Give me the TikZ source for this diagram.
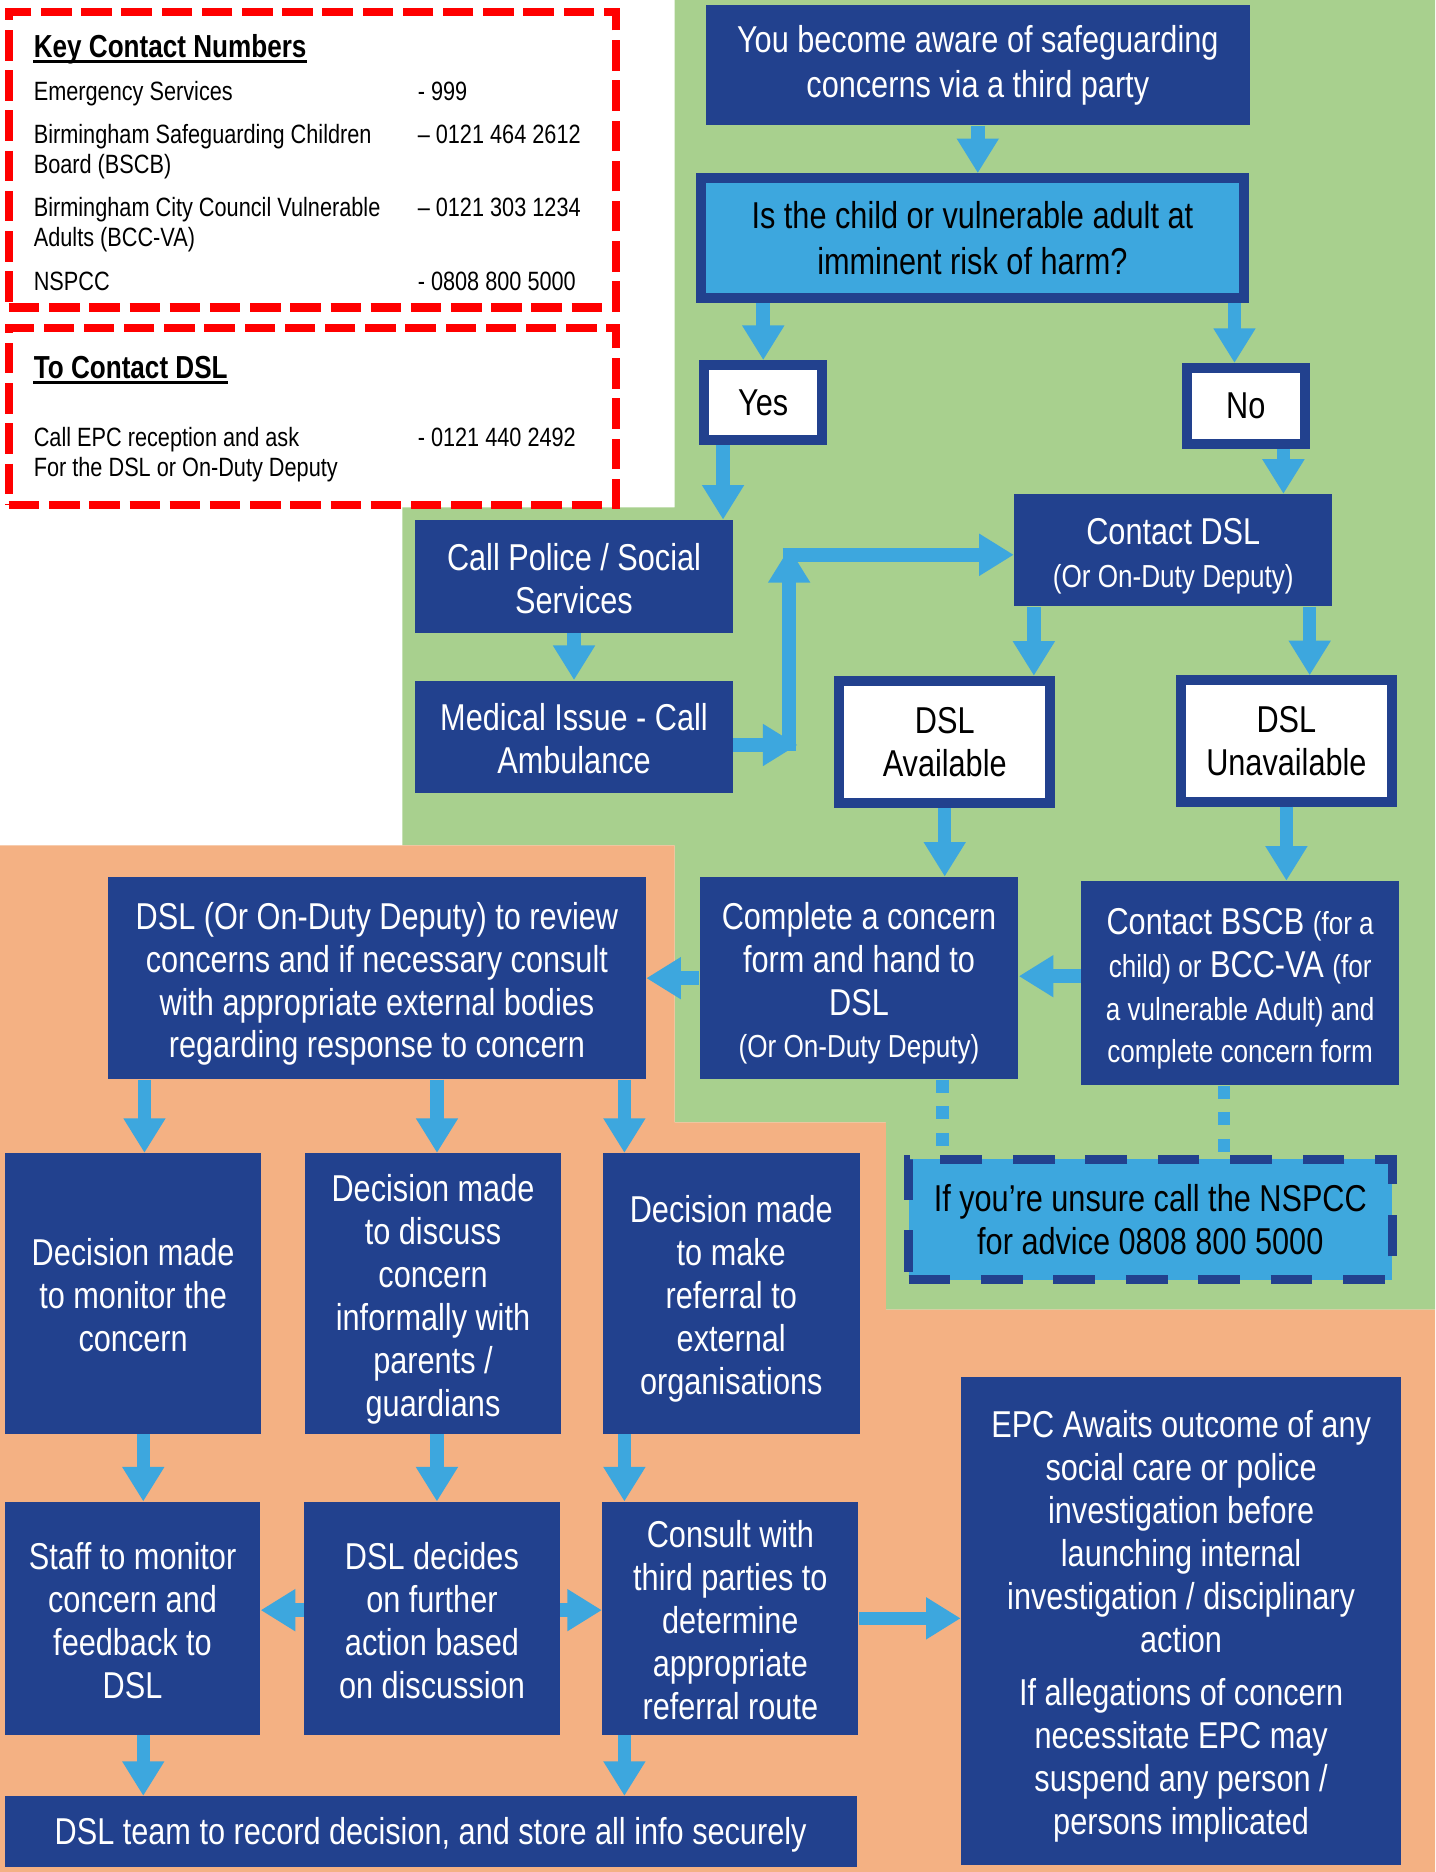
\documentclass[tikz,border=0pt]{standalone}
\usepackage{fontspec}
\setmainfont{Liberation Sans}[FakeStretch=0.82]
\usetikzlibrary{arrows.meta}
\definecolor{navy}{RGB}{34,65,142}
\definecolor{sky}{RGB}{61,167,222}
\definecolor{leaf}{RGB}{168,208,142}
\definecolor{peach}{RGB}{244,177,131}
\newcommand{\bigtxt}{\fontsize{18.8}{21.6}\selectfont}
\newcommand{\widetxt}{\fontsize{18.8}{22.8}\selectfont}
\newcommand{\smtxt}{\fontsize{16}{19}\selectfont}
\newcommand{\keytxt}{\fontsize{13.3}{15}\selectfont}
\newcommand{\keyhead}{\fontsize{16}{18}\selectfont\bfseries}
% centred block of lines, lowered slightly inside its box
\newcommand{\btxt}[2][3.4pt]{\raisebox{-#1}[\height][\depth]{\begin{tabular}{@{}c@{}}#2\end{tabular}}}

\begin{document}
\begin{tikzpicture}[x=0.6pt,y=-0.6pt,
  txtbase/.style={inner sep=0pt, align=center, font=\bigtxt},
  navybox/.style 2 args={txtbase, fill=navy, text=white,
    minimum width=#1*0.6pt, minimum height=#2*0.6pt},
  framed/.style 2 args={txtbase, fill=white, draw=navy, line width=5pt, text=black,
    minimum width=(#1-8.4)*0.6pt, minimum height=(#2-8.4)*0.6pt},
  qbox/.style 2 args={framed={#1}{#2}, fill=sky, font=\widetxt},
  advice/.style 2 args={txtbase, fill=sky, draw=navy, line width=4.5pt,
    dash pattern=on 21pt off 15.4pt, text=black,
    minimum width=#1*0.6pt, minimum height=#2*0.6pt},
  redframe/.style 2 args={draw=red, line width=4.2pt, dash pattern=on 15.3pt off 4.9pt,
    inner sep=0pt, minimum width=#1*0.6pt, minimum height=#2*0.6pt},
  keyline/.style={anchor=base west, inner sep=0pt, font=\keytxt},
  keytitle/.style={anchor=base west, inner sep=0pt, font=\keyhead},
  uline/.style={line width=1.3pt},
  arr/.style={draw=sky, line width=6.8pt, -{Triangle[width=20pt,length=17.4pt]}},
  dots/.style={draw=sky, line width=6.2pt, dash pattern=on 6.6pt off 6.8pt}
]
\useasboundingbox (0,0) rectangle (1202,1568);
\fill[white] (0,0) rectangle (1202,1568);

% coloured zones
\fill[leaf] (565,0) -- (1202,0) -- (1202,1097) -- (742,1097) -- (742,940)
  -- (565,940) -- (565,708) -- (337,708) -- (337,425) -- (565,425) -- cycle;
\fill[peach] (0,708) -- (565,708) -- (565,940) -- (742,940) -- (742,1097)
  -- (1202,1097) -- (1202,1568) -- (0,1568) -- cycle;

% contact panels
\node[redframe={508.5}{247.4}] (keybox) at (261.75,134) {};
\node[redframe={508.5}{148.5}] (dslbox) at (261.75,348.75) {};

\node[keytitle] (k0) at (28,48) {Key Contact Numbers};
\draw[uline] ([yshift=-2.1pt]k0.base west) -- ([yshift=-2.1pt]k0.base east);
\node[keyline] (k1) at (28,84) {Emergency Services};
\node[keyline] (n1) at (349.6,84) {- 999};
\node[keyline] (k2) at (28,120) {Birmingham Safeguarding Children};
\node[keyline] (n2) at (349.6,120) {– 0121 464 2612};
\node[keyline] (k3) at (28,145) {Board (BSCB)};
\node[keyline] (k4) at (28,181.5) {Birmingham City Council Vulnerable};
\node[keyline] (n4) at (349.6,181.5) {– 0121 303 1234};
\node[keyline] (k5) at (28,206.6) {Adults (BCC-VA)};
\node[keyline] (k6) at (28,243) {NSPCC};
\node[keyline] (n6) at (349.6,243) {- 0808 800 5000};

\node[keytitle] (t0) at (28,317) {To Contact DSL};
\draw[uline] ([yshift=-2.1pt]t0.base west) -- ([yshift=-2.1pt]t0.base east);
\node[keyline] (t1) at (28,374) {Call EPC reception and ask};
\node[keyline] (tn) at (349.6,374) {- 0121 440 2492};
\node[keyline] (t2) at (28,399) {For the DSL or On-Duty Deputy};

% flow boxes
\node[navybox={456}{101}, font=\widetxt] (aware) at (819,54.5) {You become aware of safeguarding\\concerns via a third party};
\node[qbox={463}{109}] (q) at (814.5,199.5) {Is the child or vulnerable adult at\\imminent risk of harm?};
\node[framed={107.5}{71.4}] (yes) at (639.3,337.3) {Yes};
\node[framed={107}{72}] (no) at (1043.5,340) {No};
\node[navybox={266.4}{94.4}] (police) at (480.8,482.8) {\btxt{Call Police / Social\\Services}};
\node[navybox={266.4}{94}] (med) at (480.8,617) {\btxt{Medical Issue - Call\\Ambulance}};
\node[navybox={266.5}{94}] (cdsl) at (982.75,461) {\btxt{Contact DSL\\{\smtxt (Or On-Duty Deputy)}}};
\node[framed={185.4}{111}] (avail) at (791.3,621.5) {DSL\\Available};
\node[framed={185}{110}] (unavail) at (1077.5,620.6) {DSL\\Unavailable};
\node[navybox={267}{169.4}] (complete) at (719.5,819.3) {\btxt{Complete a concern\\form and hand to\\DSL\\{\smtxt (Or On-Duty Deputy)}}};
\node[navybox={266.5}{171}] (bscb) at (1038.75,823.5) {\btxt{Contact BSCB {\smtxt (for a}\\{\smtxt child) or} BCC-VA {\smtxt (for}\\{\smtxt a vulnerable Adult) and}\\{\smtxt complete concern form}}};
\node[navybox={450.6}{169.4}] (review) at (315.7,819.3) {\btxt{DSL (Or On-Duty Deputy) to review\\concerns and if necessary consult\\with appropriate external bodies\\regarding response to concern}};
\node[navybox={215}{235}] (mon) at (111.5,1083.5) {\btxt{Decision made\\to monitor the\\concern}};
\node[navybox={214.6}{235}] (disc) at (362.7,1083.5) {\btxt{Decision made\\to discuss\\concern\\informally with\\parents /\\guardians}};
\node[navybox={215}{235}] (ref) at (612.5,1083.5) {\btxt{Decision made\\to make\\referral to\\external\\organisations}};
\node[navybox={214}{195}] (staff) at (111,1355.5) {\btxt{Staff to monitor\\concern and\\feedback to\\DSL}};
\node[navybox={214.4}{195}] (decides) at (361.8,1355.5) {\btxt{DSL decides\\on further\\action based\\on discussion}};
\node[navybox={214.5}{195}] (consult) at (611.75,1355.5) {\btxt{Consult with\\third parties to\\determine\\appropriate\\referral route}};
\node[navybox={713.8}{59}] (team) at (360.7,1534.1) {\btxt[2pt]{DSL team to record decision, and store all info securely}};
\node[navybox={368.6}{409}] (epc) at (989.3,1357.5) {\btxt{EPC Awaits outcome of any\\social care or police\\investigation before\\launching internal\\investigation / disciplinary\\action\\[4.8pt]If allegations of concern\\necessitate EPC may\\suspend any person /\\persons implicated}};
\node[advice={405}{101}] (nspcc) at (963.5,1021.5) {If you’re unsure call the NSPCC\\for advice 0808 800 5000};

% connectors
\draw[arr] (aware.south) -- (aware.south |- q.north);
\draw[arr] (yes.north |- q.south) -- (yes.north);
\coordinate (a1) at ([xshift=-5.7pt]no.north);
\draw[arr] (a1 |- q.south) -- (a1);
\coordinate (a2) at ([xshift=-20.2pt]yes.south);
\draw[arr] (a2) -- (a2 |- police.north);
\coordinate (a3) at ([xshift=18.9pt]no.south);
\draw[arr] (a3) -- (a3 |- cdsl.north);
\draw[arr] (police.south) -- (med.north);

\coordinate (m1) at ([yshift=-4.2pt]med.east);
\coordinate (jr) at (668,624);
\draw[arr] (m1) -- (m1 -| jr);
\coordinate (jb) at (661,629);
\coordinate (jt) at (661,459);
\draw[arr] (jb) -- (jt);
\coordinate (jh) at (655.5,464.7);
\draw[arr] (jh) -- (jh -| cdsl.west);

\coordinate (a4) at ([xshift=44.8pt]avail.north);
\draw[arr] (a4 |- cdsl.south) -- (a4);
\coordinate (a5) at ([xshift=11.7pt]unavail.north);
\draw[arr] (a5 |- cdsl.south) -- (a5);
\draw[arr] (avail.south) -- (avail.south |- complete.north);
\draw[arr] (unavail.south) -- (unavail.south |- bscb.north);
\coordinate (a6) at ([yshift=3.5pt]bscb.west);
\draw[arr] (a6) -- (a6 -| complete.east);
\draw[arr] (complete.west) -- (complete.west -| review.east);

\coordinate (a7) at ([xshift=5.7pt]mon.north);
\draw[arr] (a7 |- review.south) -- (a7);
\coordinate (a8) at ([xshift=2pt]disc.north);
\draw[arr] (a8 |- review.south) -- (a8);
\coordinate (a9) at ([xshift=-53.7pt]ref.north);
\draw[arr] (a9 |- review.south) -- (a9);

\coordinate (b1) at ([xshift=5.4pt]staff.north);
\draw[arr] (b1 |- mon.south) -- (b1);
\coordinate (b2) at ([xshift=2.5pt]decides.north);
\draw[arr] (b2 |- disc.south) -- (b2);
\coordinate (b3) at ([xshift=-53.25pt]consult.north);
\draw[arr] (b3 |- ref.south) -- (b3);
\coordinate (b4) at ([xshift=5.4pt]staff.south);
\draw[arr] (b4) -- (b4 |- team.north);
\coordinate (b5) at ([xshift=-53.25pt]consult.south);
\draw[arr] (b5) -- (b5 |- team.north);
\coordinate (b6) at ([yshift=4.1pt]decides.west);
\draw[arr] (b6) -- (b6 -| staff.east);
\coordinate (b7) at ([yshift=4.1pt]decides.east);
\draw[arr] (b7) -- (b7 -| consult.west);
\draw[arr] (consult.east) -- (consult.east -| epc.west);

\coordinate (d1) at ([xshift=42pt]complete.south);
\draw[dots] (d1) -- (d1 |- nspcc.north);
\coordinate (d2) at ([xshift=-8.25pt]bscb.south);
\draw[dots] (d2) -- (d2 |- nspcc.north);
\end{tikzpicture}
\end{document}
